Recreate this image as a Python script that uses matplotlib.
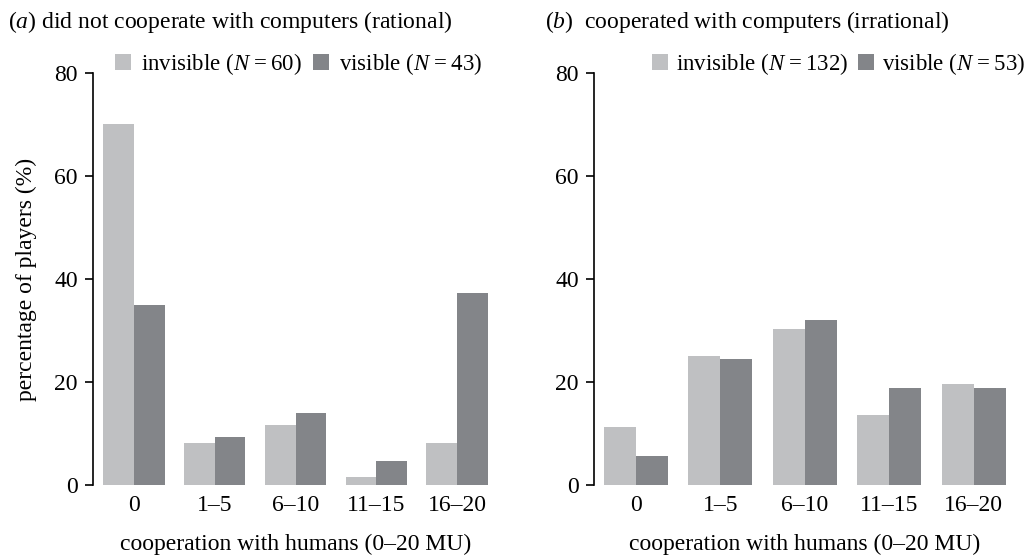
import matplotlib
matplotlib.use('Agg')
import matplotlib.pyplot as plt
import numpy as np

# Data
categories = ['0', '1–5', '6–10', '11–15', '16–20']
rational_invisible = [70.0, 8.3, 11.7, 1.7, 8.3]
rational_visible = [34.9, 9.3, 14.0, 4.7, 37.2]
irrational_invisible = [11.4, 25.0, 30.3, 13.6, 19.7]
irrational_visible = [5.7, 24.5, 32.1, 18.9, 18.9]
yticks = [0, 20, 40, 60, 80]

c_invis = '#bfc0c2'
c_vis = '#838589'

plt.rcParams['font.family'] = 'Liberation Serif'
plt.rcParams['mathtext.fontset'] = 'custom'
plt.rcParams['mathtext.rm'] = 'Liberation Serif'
plt.rcParams['mathtext.it'] = 'Liberation Serif:italic'
fs = 17
lfs = 16.5

fig = plt.figure(figsize=(10.34, 5.58), dpi=100)
ax1 = fig.add_axes([0.0899, 0.130, 0.3913, 0.740])
ax2 = fig.add_axes([0.5745, 0.130, 0.408, 0.740])

x = np.arange(len(categories))
w = 0.38


def panel(ax, inv, vis, left):
    ax.bar(x - w / 2, inv, w, color=c_invis, label='inv')
    ax.bar(x + w / 2, vis, w, color=c_vis, label='vis')
    ax.set_xlim(left, 4.5)
    ax.set_ylim(0, 80)
    ax.set_yticks(yticks)
    ax.set_xticks(x)
    ax.set_xticklabels(categories)
    for s in ['top', 'right', 'bottom']:
        ax.spines[s].set_visible(False)
    ax.spines['left'].set_bounds(0, 80)
    ax.spines['left'].set_linewidth(1.2)
    ax.tick_params(axis='y', direction='out', length=6, width=1.2, labelsize=fs, pad=5)
    ax.tick_params(axis='x', length=0, labelsize=fs, pad=7)
    ax.set_xlabel('cooperation with humans (0–20 MU)', fontsize=fs, labelpad=13)


def nlab(name, n):
    return name + r' ($N\hspace{0.08}{=}\hspace{0.08}' + str(n) + '$)'


panel(ax1, rational_invisible, rational_visible, -0.507)
panel(ax2, irrational_invisible, irrational_visible, -0.497)
ax1.set_ylabel('percentage of players (%)', fontsize=fs, labelpad=12)

# legends
leg_kw = dict(loc='center left', bbox_transform=fig.transFigure, ncol=2,
              frameon=False, fontsize=lfs, handlelength=0.7, handleheight=0.7,
              handletextpad=0.45, columnspacing=0.45, borderpad=0, borderaxespad=0)
h1, _ = ax1.get_legend_handles_labels()
ax1.legend(h1, [nlab('invisible', 60), nlab('visible', 43)],
           bbox_to_anchor=(115 / 1034, 1 - 64 / 558), **leg_kw)
h2, _ = ax2.get_legend_handles_labels()
leg_kw.update(handletextpad=0.35, columnspacing=0.4)
ax2.legend(h2, [nlab('invisible', 132), nlab('visible', 53)],
           bbox_to_anchor=(652 / 1034, 1 - 64 / 558), **leg_kw)

# panel titles
fig.text(8 / 1034, 1 - 22 / 558, r'($a$) did not cooperate with computers (rational)',
         fontsize=fs, va='center', ha='left')
fig.text(545 / 1034, 1 - 22 / 558, r'($b$)  cooperated with computers (irrational)',
         fontsize=fs, va='center', ha='left')

fig.savefig('out.png', dpi=100)
